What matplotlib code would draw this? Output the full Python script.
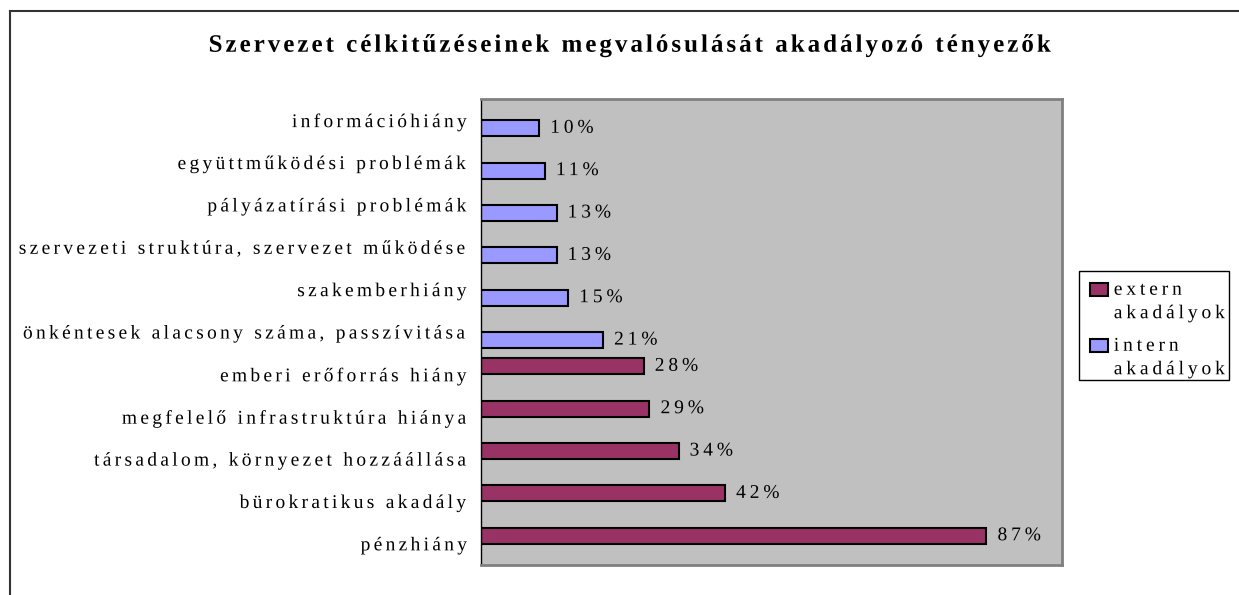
import matplotlib.pyplot as plt
import numpy as np
from matplotlib.legend_handler import HandlerPatch
from matplotlib.lines import Line2D
from matplotlib.patches import Patch, Rectangle
from matplotlib.path import Path
from matplotlib.patheffects import AbstractPathEffect

plt.rcParams['font.family'] = ['Liberation Serif', 'DejaVu Serif']

# Categories listed bottom-to-top, as Excel draws them
categories = [
    'pénzhiány',
    'bürokratikus akadály',
    'társadalom, környezet hozzáállása',
    'megfelelő infrastruktúra hiánya',
    'emberi erőforrás hiány',
    'önkéntesek alacsony száma, passzívitása',
    'szakemberhiány',
    'szervezeti struktúra, szervezet működése',
    'pályázatírási problémák',
    'együttműködési problémák',
    'információhiány',
]
extern = [87, 42, 34, 29, 28, 0, 0, 0, 0, 0, 0]
intern = [0, 0, 0, 0, 0, 21, 15, 13, 13, 11, 10]
series_names = ['extern\nakadályok', 'intern\nakadályok']
title = 'Szervezet célkitűzéseinek megvalósulását akadályozó tényezők'

EXT_COLOR = '#993366'
INT_COLOR = '#9999FF'
BAR_H = 0.38


class LetterSpacing(AbstractPathEffect):
    """Spreads glyphs apart to mimic the wide Excel letter spacing.

    spacing is in em, anchor is 0 for left, 0.5 for centre, 1 for right
    aligned text so the text stays put at its anchor point.
    """

    def __init__(self, spacing=0.15, anchor=0.0):
        super().__init__()
        self.spacing = spacing * 100  # TextPath units: 100 per em
        self.anchor = anchor

    def draw_path(self, renderer, gc, tpath, affine, rgbFace=None):
        codes = tpath.codes
        verts = np.array(tpath.vertices, dtype=float)
        if codes is None or len(verts) == 0:
            renderer.draw_path(gc, tpath, affine, rgbFace)
            return

        # Split the text outline into contours
        starts = list(np.flatnonzero(codes == Path.MOVETO))
        if not starts or starts[0] != 0:
            starts = [0] + starts
        ends = starts[1:] + [len(verts)]
        parts = []
        for s, e in zip(starts, ends):
            m = codes[s:e] != Path.CLOSEPOLY
            xs = verts[s:e][m, 0]
            if len(xs) == 0:
                continue
            parts.append([xs.min(), xs.max(), s, e])
        parts.sort(key=lambda p: p[0])

        # Group contours that belong to the same glyph (dots, accents, holes)
        clusters = []
        for x0, x1, s, e in parts:
            if clusters:
                c = clusters[-1]
                ov = min(c[1], x1) - max(c[0], x0)
                if ov > 0.5 * min(c[1] - c[0], x1 - x0):
                    c[0] = min(c[0], x0)
                    c[1] = max(c[1], x1)
                    c[2].append((s, e))
                    continue
            clusters.append([x0, x1, [(s, e)]])

        n = 0
        shifts = []
        for j, c in enumerate(clusters):
            if j > 0:
                n += 1
                if c[0] - clusters[j - 1][1] > 18:  # a space between words
                    n += 1
            shifts.append(n * self.spacing)
        offset = -self.anchor * n * self.spacing

        for c, sh in zip(clusters, shifts):
            for s, e in c[2]:
                verts[s:e, 0] += sh + offset
        renderer.draw_path(gc, Path(verts, codes), affine, rgbFace)


def first_line_square(legend, orig_handle, xdescent, ydescent,
                      width, height, fontsize):
    # Excel puts the legend key next to the first line of the label
    return Rectangle((-xdescent, -ydescent + 0.62 * fontsize), width, height)


fig = plt.figure(figsize=(12.39, 5.95), dpi=100)
ax = fig.add_axes([0.3882, 0.0504, 0.4689, 0.7832])
ax.set_facecolor('#C0C0C0')

y = np.arange(len(categories))
ext = np.array(extern, dtype=float)
inn = np.array(intern, dtype=float)

# Each series only has bars where it has a value
for vals, offset, color in [(ext, BAR_H / 2, EXT_COLOR),
                            (inn, -BAR_H / 2, INT_COLOR)]:
    mask = vals > 0
    bars = ax.barh(y[mask] + offset, vals[mask], height=BAR_H,
                   color=color, edgecolor='black', linewidth=1.5)
    labels = ax.bar_label(bars, labels=[f'{v:.0f}%' for v in vals[mask]],
                          padding=8, fontsize=14)
    for lbl in labels:
        lbl.set_path_effects([LetterSpacing(0.2, 0.0)])

ax.set_xlim(0, 100)
ax.set_ylim(-0.5, len(categories) - 0.5)
ax.set_xticks([])
ax.set_yticks(y, categories)
ax.tick_params(axis='y', length=0, pad=10, labelsize=14)
for lbl in ax.get_yticklabels():
    lbl.set_path_effects([LetterSpacing(0.17, 1.0)])

for side in ['top', 'right', 'bottom']:
    ax.spines[side].set_color('#808080')
    ax.spines[side].set_linewidth(2)
ax.spines['left'].set_color('black')
ax.spines['left'].set_linewidth(1)

fig.text(0.508, 0.924, title, ha='center', va='center',
         fontsize=18, fontweight='bold',
         path_effects=[LetterSpacing(0.12, 0.5)])

handles = [Patch(facecolor=EXT_COLOR, edgecolor='black', linewidth=1.5),
           Patch(facecolor=INT_COLOR, edgecolor='black', linewidth=1.5)]
leg = fig.legend(handles, series_names, loc='upper left',
                 bbox_to_anchor=(1079 / 1239, 1 - 271 / 595),
                 borderaxespad=0, fontsize=14, frameon=False,
                 handlelength=0.93, handleheight=0.67, handletextpad=0.31,
                 labelspacing=0.8, borderpad=0.55,
                 handler_map={Patch: HandlerPatch(patch_func=first_line_square)})
for t in leg.get_texts():
    t.set_linespacing(1.5)
    t.set_path_effects([LetterSpacing(0.2, 0.0)])

# Legend box drawn by hand, the spaced text is wider than matplotlib thinks
fig.add_artist(Rectangle((1079 / 1239, 1 - 380 / 595), 150 / 1239, 109 / 595,
                         transform=fig.transFigure, fill=False,
                         edgecolor='black', linewidth=1))

# Outer chart frame: only the left and top edges are visible
fig.add_artist(Line2D([0.0077, 0.0077], [0.9807, 0], color='#333333', lw=1.5))
fig.add_artist(Line2D([0.0077, 1], [0.9807, 0.9807], color='#333333', lw=1.5))

fig.savefig('out.png', dpi=100)
